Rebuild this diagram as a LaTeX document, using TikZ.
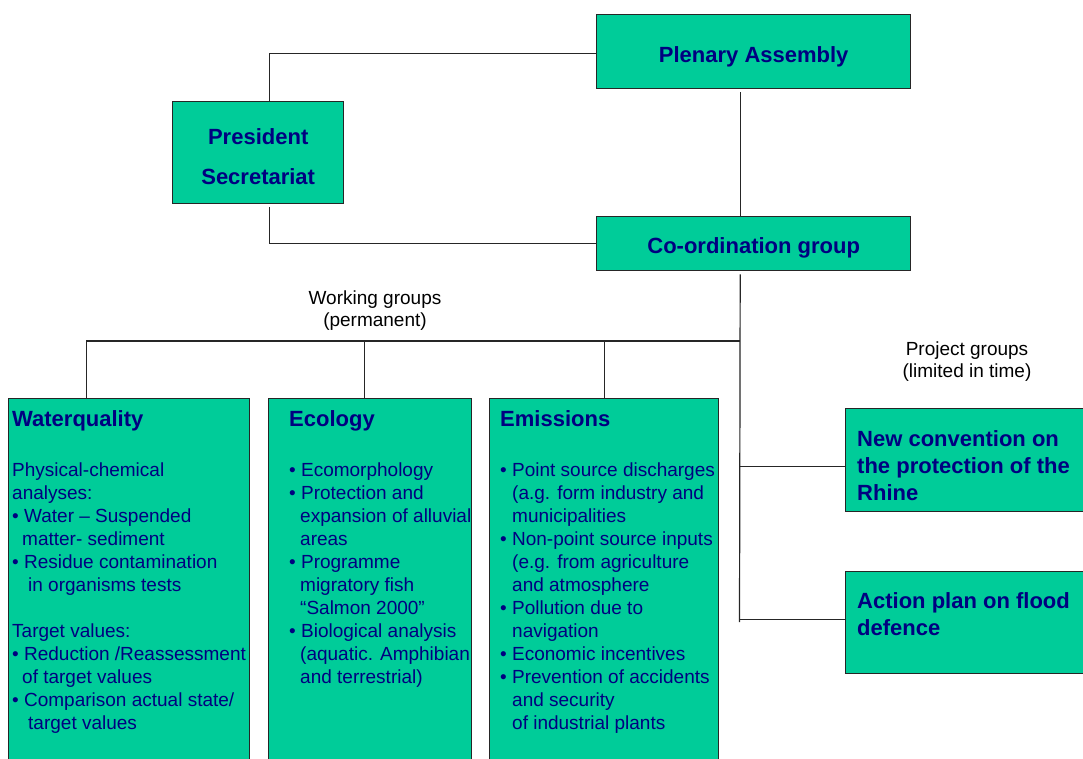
\documentclass[tikz,border=0pt]{standalone}
\usepackage{fontspec}
\setmainfont{Liberation Sans}
\definecolor{groupgreen}{RGB}{0,204,153}
\definecolor{groupblue}{RGB}{0,0,128}
\newcommand{\ind}[1]{\hspace*{#1pt}}
\begin{document}
\begin{tikzpicture}[x=1pt,y=-1pt,
    orgbox/.style={draw=black!85, line width=1.4pt, fill=groupgreen, anchor=north west, inner sep=0pt},
    boxtitle/.style={text=groupblue, font=\fontsize{22}{27}\selectfont\bfseries},
    boxbody/.style={text=groupblue, font=\fontsize{19}{23}\selectfont, align=left, anchor=base west, inner sep=0pt},
    grouplabel/.style={font=\fontsize{19}{22}\selectfont, align=center},
    link/.style={line width=1.2pt, black!85}]
    \useasboundingbox (0,0) rectangle (1083,758);

    % top of the organisation
    \node[orgbox, boxtitle, text height=26pt, text depth=4pt,
          minimum width=314pt, minimum height=74pt] (plen) at (596,14) {Plenary Assembly};
    \node[orgbox, boxtitle, align=center, font=\fontsize{22}{40}\selectfont\bfseries, text height=65pt,
          minimum width=171pt, minimum height=102pt] (pres) at (172,100.5) {President\\Secretariat};
    \node[orgbox, boxtitle, text height=24pt, text depth=4pt,
          minimum width=314pt, minimum height=54pt] (coord) at (596,216) {Co-ordination group};

    % working groups
    \node[orgbox, minimum width=241pt, minimum height=372pt] (wq) at (8,398) {};
    \node[orgbox, minimum width=203pt, minimum height=372pt] (eco) at (267.5,398) {};
    \node[orgbox, minimum width=229pt, minimum height=372pt] (emi) at (489,398) {};

    % project groups
    \node[orgbox, minimum width=238pt, minimum height=103pt] (conv) at (845,407.5) {};
    \node[orgbox, minimum width=238pt, minimum height=102pt] (act) at (845,570.5) {};

    \node[boxtitle, anchor=base west, inner sep=0pt] (wqtitle) at (12,426) {Waterquality};
    \node[boxtitle, anchor=base west, inner sep=0pt] (ecotitle) at (289,426) {Ecology};
    \node[boxtitle, anchor=base west, inner sep=0pt] (emititle) at (500,426) {Emissions};

    % base of a text block is the baseline of its last line
    \node[boxbody] (wqtext) at (12,729) {Physical-chemical\\
        analyses:\\
        • Water – Suspended\\
        \ind{10}matter- sediment\\
        • Residue contamination\\
        \ind{16}in organisms tests\\[23pt]
        Target values:\\
        • Reduction /Reassessment\\
        \ind{10}of target values\\
        • Comparison actual state/\\
        \ind{16}target values};
    \node[boxbody] (ecotext) at (289,683) {• Ecomorphology\\
        • Protection and\\
        \ind{11}expansion of alluvial\\
        \ind{11}areas\\
        • Programme\\
        \ind{11}migratory fish\\
        \ind{11}“Salmon 2000”\\
        • Biological analysis\\
        \ind{11}(aquatic. Amphibian\\
        \ind{11}and terrestrial)};
    \node[boxbody] (emitext) at (500,729) {• Point source discharges\\
        \ind{12}(a.g. form industry and\\
        \ind{12}municipalities\\
        • Non-point source inputs\\
        \ind{12}(e.g. from agriculture\\
        \ind{12}and atmosphere\\
        • Pollution due to\\
        \ind{12}navigation\\
        • Economic incentives\\
        • Prevention of accidents\\
        \ind{12}and security\\
        \ind{12}of industrial plants};

    \node[boxtitle, align=left, anchor=base west, inner sep=0pt] (convtext) at (857,500) {New convention on\\the protection of the\\Rhine};
    \node[boxtitle, align=left, anchor=base west, inner sep=0pt] (acttext) at (857,635) {Action plan on flood\\defence};

    \node[grouplabel] (wglabel) at (375,311) {Working groups\\(permanent)};
    \node[grouplabel] (pglabel) at (967,361.5) {Project groups\\(limited in time)};

    % connectors
    \coordinate (bus) at (739.5,341);
    \coordinate (trunkend) at (739.5,622);
    \draw[link] ([xshift=11pt]pres.north) |- ([yshift=-2pt]plen.west);
    \draw[link, shorten <=3pt] ([xshift=11pt]pres.south) |- (coord.west);
    \draw[link, shorten <=3pt] ([xshift=-13.5pt]plen.south) -- ([xshift=-13.5pt]coord.north);
    \draw[link, shorten <=3pt] ([xshift=-13.5pt]coord.south) -- (trunkend);
    \draw[link] (bus) -| ([xshift=-42.5pt]wq.north);
    \draw[link] ([xshift=-5.3pt]eco.north) |- (bus);
    \draw[link] (emi.north) |- (bus);
    \draw[link] ([yshift=-7pt]conv.west) -- ++(-105.5,0);
    \draw[link] ([yshift=3pt]act.west) -- ++(-105.5,0);
\end{tikzpicture}
\end{document}
